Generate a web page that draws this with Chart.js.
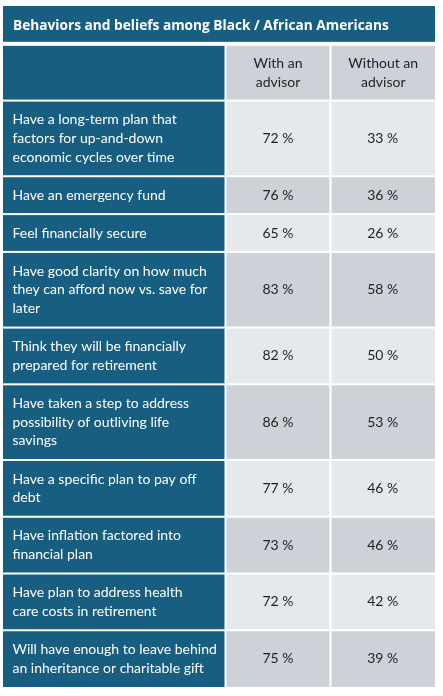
<!DOCTYPE html>
<html>
<head>
<meta charset="utf-8">
<script src="https://cdn.jsdelivr.net/npm/chart.js@4.4.1/dist/chart.umd.min.js"></script>
<style>
  html, body { margin: 0; background: #fff; }
  #wrap { width: 443px; height: 696px; position: relative; }
</style>
</head>
<body>
<div id="wrap"><canvas id="tableChart"></canvas></div>
<script>
const title = "Behaviors and beliefs among Black / African Americans";
const columnHeaders = [["With an", "advisor"], ["Without an", "advisor"]];
const rowLabels = [
  ["Have a long-term plan that", "factors for up-and-down", "economic cycles over time"],
  ["Have an emergency fund"],
  ["Feel financially secure"],
  ["Have good clarity on how much", "they can afford now vs. save for", "later"],
  ["Think they will be financially", "prepared for retirement"],
  ["Have taken a step to address", "possibility of outliving life", "savings"],
  ["Have a specific plan to pay off", "debt"],
  ["Have inflation factored into", "financial plan"],
  ["Have plan to address health", "care costs in retirement"],
  ["Will have enough to leave behind", "an inheritance or charitable gift"],
];
const withAdvisor = [72, 76, 65, 83, 82, 86, 77, 73, 72, 75];
const withoutAdvisor = [33, 36, 26, 58, 50, 53, 46, 46, 42, 39];

const DARK = "#175e80";
const LIGHT = "#e6e9ec";
const MID = "#cdd1d8";
const FONT = "Lato, sans-serif";
const colEdges = [0, 222.5, 327.5, 432];

// vertical units: every block takes (lines + 1)
const blockLines = [1, 2, ...rowLabels.map((l) => l.length)];
const yEdges = [0];
blockLines.forEach((n) => yEdges.push(yEdges[yEdges.length - 1] + n + 1));
const yMax = yEdges[yEdges.length - 1];
const rowMid = (i) => (yEdges[i + 2] + yEdges[i + 3]) / 2;
const colMid = (c) => (colEdges[c] + colEdges[c + 1]) / 2;

function cellRect(chart, c0, c1, b, fill, extra = {}) {
  const { x, y } = chart.scales;
  const ctx = chart.ctx;
  const left = x.getPixelForValue(colEdges[c0]) + (c0 > 0 ? 1 : 0);
  const right = x.getPixelForValue(colEdges[c1]) - (c1 < 3 ? 1 : 0);
  const top = y.getPixelForValue(yEdges[b]) + (b > 0 ? (extra.top ?? 1) : 0);
  const bottom = y.getPixelForValue(yEdges[b + 1]) - (b + 1 < yEdges.length - 1 ? (extra.bottom ?? 1) : 0);
  ctx.fillStyle = fill;
  ctx.fillRect(left, top, right - left, bottom - top);
  return { left, right, top, bottom };
}

function drawLines(ctx, lines, x, cy, lineH) {
  lines.forEach((line, i) => {
    ctx.fillText(line, x, cy + (i - (lines.length - 1) / 2) * lineH);
  });
}

const tablePlugin = {
  id: "tableCells",
  beforeDatasetsDraw(chart) {
    const ctx = chart.ctx;
    const lineH = 18.6;
    ctx.save();
    // title bar
    const t = cellRect(chart, 0, 3, 0, DARK, { bottom: 2 });
    ctx.fillStyle = "#ffffff";
    ctx.font = `700 13.7px "Open Sans", sans-serif`;
    ctx.textAlign = "left";
    ctx.textBaseline = "middle";
    ctx.fillText(title, t.left + 10, (t.top + t.bottom) / 2 + 2);

    // header row
    cellRect(chart, 0, 1, 1, DARK, { top: 2 });
    [1, 2].forEach((c, k) => {
      const r = cellRect(chart, c, c + 1, 1, MID, { top: 2 });
      ctx.fillStyle = "#1f1f1f";
      ctx.font = `400 14px ${FONT}`;
      ctx.textAlign = "center";
      drawLines(ctx, columnHeaders[k], (r.left + r.right) / 2, (r.top + r.bottom) / 2, lineH);
    });

    // body rows
    rowLabels.forEach((lines, i) => {
      const b = i + 2;
      const r = cellRect(chart, 0, 1, b, DARK);
      const shade = i % 2 === 0 ? LIGHT : MID;
      cellRect(chart, 1, 2, b, shade);
      cellRect(chart, 2, 3, b, shade);
      ctx.fillStyle = "#ffffff";
      ctx.font = `400 14px ${FONT}`;
      ctx.textAlign = "left";
      drawLines(ctx, lines, r.left + 9.5, (r.top + r.bottom) / 2, lineH);
    });
    ctx.restore();
  },
  afterDatasetsDraw(chart) {
    const ctx = chart.ctx;
    ctx.save();
    ctx.fillStyle = "#1f1f1f";
    ctx.font = `400 14px ${FONT}`;
    ctx.textAlign = "center";
    ctx.textBaseline = "middle";
    chart.data.datasets.forEach((ds, di) => {
      chart.getDatasetMeta(di).data.forEach((pt, i) => {
        ctx.fillText(`${ds.data[i].v} %`, pt.x, pt.y);
      });
    });
    ctx.restore();
  },
};

new Chart(document.getElementById("tableChart"), {
  type: "scatter",
  data: {
    datasets: [
      { label: "With an advisor", data: withAdvisor.map((v, i) => ({ x: colMid(1), y: rowMid(i), v })), pointRadius: 0 },
      { label: "Without an advisor", data: withoutAdvisor.map((v, i) => ({ x: colMid(2), y: rowMid(i), v })), pointRadius: 0 },
    ],
  },
  options: {
    responsive: true,
    maintainAspectRatio: false,
    animation: false,
    events: [],
    layout: { padding: { left: 3, right: 8, top: 6, bottom: 9 } },
    scales: {
      x: { type: "linear", min: 0, max: 432, display: false },
      y: { type: "linear", min: 0, max: yMax, reverse: true, display: false },
    },
    plugins: { legend: { display: false }, tooltip: { enabled: false } },
  },
  plugins: [tablePlugin],
});
</script>
</body>
</html>
